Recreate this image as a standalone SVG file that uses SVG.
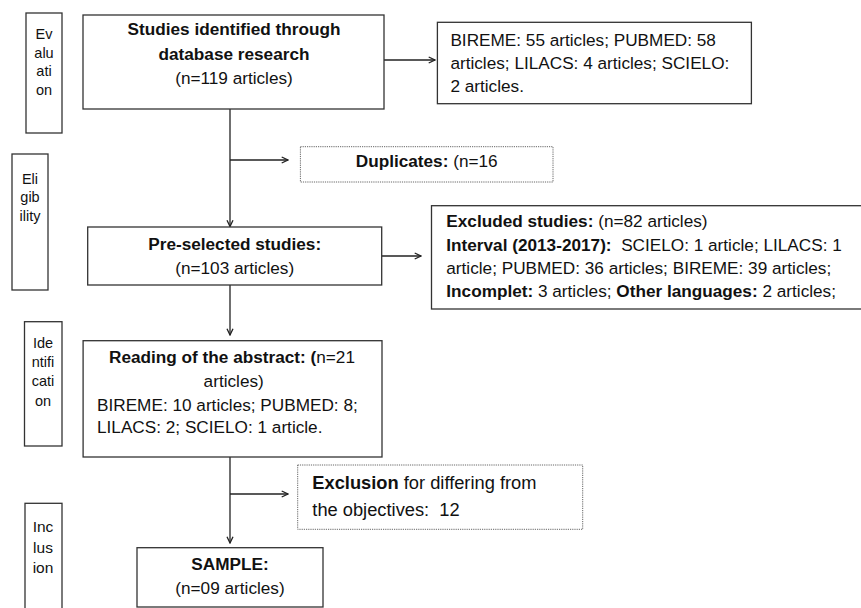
<svg xmlns="http://www.w3.org/2000/svg" width="861" height="608" viewBox="0 0 861 608">
<defs>
<marker id="arr" viewBox="0 0 8 8" refX="7.3" refY="4" markerWidth="8" markerHeight="8" markerUnits="userSpaceOnUse" orient="auto">
<path d="M1,1 L7.3,4 L1,7" fill="none" stroke="#222" stroke-width="1.3"/>
</marker>
<style>
text{font-family:"Liberation Sans",Arial,sans-serif;fill:#111}
.m{font-size:17.2px}
.s{font-size:14.5px;text-anchor:middle}
.c{text-anchor:middle}
.b{font-weight:bold}
.box{fill:#fff;stroke:#333;stroke-width:1.3}
.dash{fill:#fff;stroke:#666;stroke-width:1;stroke-dasharray:1.2 1}
.ln{fill:none;stroke:#222;stroke-width:1.3;marker-end:url(#arr)}
</style>
</defs>
<rect width="861" height="608" fill="#fff"/>

<g id="side-evaluation">
<rect class="box" x="26" y="13" width="36" height="120"/>
<text class="s" x="44" y="39">Ev</text>
<text class="s" x="44" y="57.5">alu</text>
<text class="s" x="44" y="76">ati</text>
<text class="s" x="44" y="94.5">on</text>
</g>
<g id="side-eligibility">
<rect class="box" x="12" y="154" width="36" height="136"/>
<text class="s" x="30" y="183.5">Eli</text>
<text class="s" x="30" y="202">gib</text>
<text class="s" x="30" y="220.5">ility</text>
</g>
<g id="side-identification">
<rect class="box" x="24.5" y="321.7" width="37.5" height="124.3"/>
<text class="s" x="43" y="347.7">Ide</text>
<text class="s" x="43" y="366.7">ntifi</text>
<text class="s" x="43" y="386">cati</text>
<text class="s" x="43" y="405.5">on</text>
</g>
<g id="side-inclusion">
<rect class="box" x="25" y="503.3" width="37" height="130"/>
<text class="s" x="43" y="531.7" style="font-size:15.5px">Inc</text>
<text class="s" x="43" y="553.3" style="font-size:15.5px">lus</text>
<text class="s" x="43" y="573.3" style="font-size:15.5px">ion</text>
</g>

<g id="connectors">
<line class="ln" x1="384" y1="60" x2="435" y2="60"/>
<line class="ln" x1="230" y1="109" x2="230" y2="226.5"/>
<line class="ln" x1="230" y1="160" x2="288" y2="160"/>
<line class="ln" x1="382" y1="256" x2="421" y2="256"/>
<line class="ln" x1="230" y1="285" x2="230" y2="335"/>
<line class="ln" x1="230" y1="457" x2="230" y2="543"/>
<line class="ln" x1="230" y1="494" x2="288" y2="494"/>
</g>

<g id="identified">
<rect class="box" x="83" y="15" width="301" height="94"/>
<text class="m c b" x="234" y="35">Studies identified through</text>
<text class="m c b" x="234" y="59.5">database research</text>
<text class="m c" x="234" y="84">(n=119 articles)</text>
</g>
<g id="databases">
<rect class="box" x="437.4" y="22.3" width="314" height="81.4"/>
<text class="m" x="450.4" y="46">BIREME: 55 articles; PUBMED: 58</text>
<text class="m" x="450.4" y="69">articles; LILACS: 4 articles; SCIELO:</text>
<text class="m" x="450.4" y="92">2 articles.</text>
</g>
<g id="duplicates">
<rect class="dash" x="300.4" y="146.7" width="252.6" height="35.3"/>
<text class="m c" x="426.7" y="167"><tspan class="b">Duplicates:</tspan> (n=16</text>
</g>
<g id="preselected">
<rect class="box" x="87.7" y="227" width="294" height="58"/>
<text class="m c b" x="234.7" y="249.5">Pre-selected studies:</text>
<text class="m c" x="234.7" y="274">(n=103 articles)</text>
</g>
<g id="excluded">
<rect class="box" x="431.5" y="205.7" width="440" height="103.3"/>
<text class="m" x="446.3" y="227"><tspan class="b">Excluded studies:</tspan> (n=82 articles)</text>
<text class="m" x="446.3" y="250.7" xml:space="preserve"><tspan class="b">Interval (2013-2017):</tspan>  SCIELO: 1 article; LILACS: 1</text>
<text class="m" x="446.3" y="274">article; PUBMED: 36 articles; BIREME: 39 articles;</text>
<text class="m" x="446.3" y="296.7"><tspan class="b">Incomplet:</tspan> 3 articles; <tspan class="b">Other languages:</tspan> 2 articles;</text>
</g>
<g id="abstract">
<rect class="box" x="83.1" y="340.7" width="298.9" height="116.3"/>
<text class="m c" x="232" y="363.3"><tspan class="b">Reading of the abstract: (</tspan>n=21</text>
<text class="m c" x="233.7" y="387.3">articles)</text>
<text class="m" x="97" y="411">BIREME: 10 articles; PUBMED: 8;</text>
<text class="m" x="97" y="433.3">LILACS: 2; SCIELO: 1 article.</text>
</g>
<g id="exclusion">
<rect class="dash" x="297.7" y="465" width="285" height="64.3"/>
<text x="312.3" y="489.3" style="font-size:18.3px"><tspan class="b">Exclusion</tspan> for differing from</text>
<text x="312.3" y="516" style="font-size:18.3px" xml:space="preserve">the objectives:  12</text>
</g>
<g id="sample">
<rect class="box" x="137" y="547.7" width="186" height="59.3"/>
<text class="m c b" x="230" y="570">SAMPLE:</text>
<text class="m c" x="230" y="594">(n=09 articles)</text>
</g>
</svg>
